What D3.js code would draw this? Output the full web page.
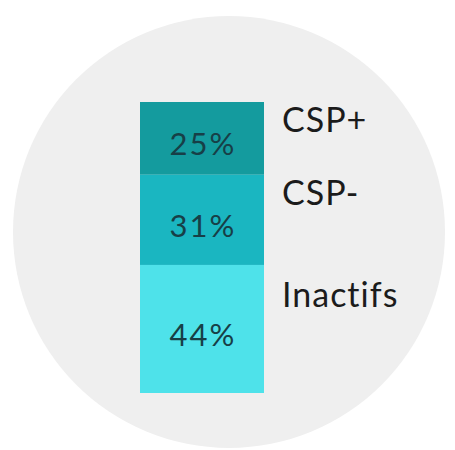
<!DOCTYPE html>
<html>
<head>
<meta charset="utf-8">
<script src="https://cdn.jsdelivr.net/npm/d3@7"></script>
<style>
  body { margin: 0; background: #fff; }
  .pct { font-family: Lato, 'Open Sans', sans-serif; fill: #173f47; text-anchor: middle; letter-spacing: 2px; }
  .lab { font-family: Lato, 'Open Sans', sans-serif; fill: #1b1b1b; letter-spacing: 1px; }
</style>
</head>
<body>
<div class="chart"></div>
<script>
// data
let categories = ['CSP+', 'CSP-', 'Inactifs']
let values = [25, 31, 44]
let colors = ['#149b9e', '#1ab6c1', '#4ee2ea']

const width = 455
const height = 450

const svg = d3
  .select('.chart')
  .append('svg')
  .attr('width', width)
  .attr('height', height)

// grey disc behind everything
svg
  .append('circle')
  .attr('cx', 229)
  .attr('cy', 232)
  .attr('r', 216)
  .style('fill', '#efefef')

// stack the values
let stacked = []
let acc = 0
values.forEach((v, i) => {
  stacked.push({ cat: categories[i], value: v, start: acc, end: acc + v, color: colors[i] })
  acc += v
})

let y = d3.scaleLinear().domain([0, d3.sum(values)]).range([102, 393])
let x = d3.scaleBand().domain(['bar']).range([140, 264]).padding(0)

svg
  .selectAll('.seg')
  .data(stacked)
  .enter()
  .append('rect')
  .attr('class', 'seg')
  .attr('x', x('bar'))
  .attr('width', x.bandwidth())
  .attr('y', (d) => y(d.start))
  .attr('height', (d) => y(d.end) - y(d.start))
  .style('fill', (d) => d.color)

// percentages inside
svg
  .selectAll('.pct')
  .data(stacked)
  .enter()
  .append('text')
  .attr('class', 'pct')
  .attr('x', x('bar') + x.bandwidth() / 2 + 1)
  .attr('y', (d) => (y(d.start) + y(d.end)) / 2 + 17)
  .style('font-size', '31px')
  .text((d) => d.value + '%')

// category labels to the right
svg
  .selectAll('.lab')
  .data(stacked)
  .enter()
  .append('text')
  .attr('class', 'lab')
  .attr('x', 282)
  .attr('y', (d) => y(d.start) + Math.max(30, (y(d.end) - y(d.start)) * 0.33))
  .style('font-size', '34px')
  .text((d) => d.cat)
</script>
</body>
</html>
